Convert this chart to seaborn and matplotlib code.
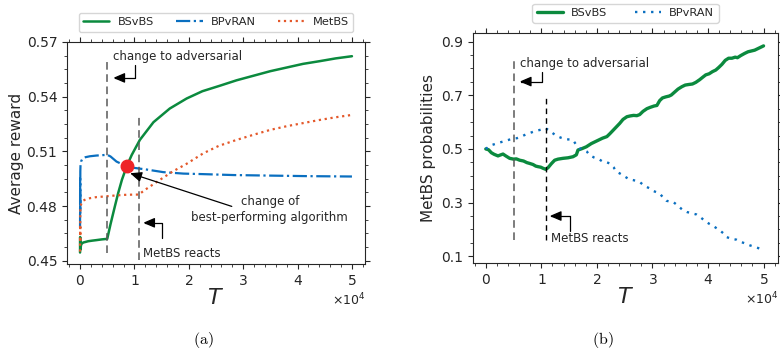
import matplotlib
matplotlib.use("Agg")
import matplotlib.pyplot as plt
from matplotlib.ticker import MultipleLocator, ScalarFormatter
import seaborn as sns

# ---------------- (a) average reward over time ----------------
t_bsvbs = [0, 20, 40, 70, 120, 200, 350, 600, 1000, 1500, 2200, 3000, 4000, 5000,
           5600, 6400, 7000, 7700, 8600, 9500, 11000, 13500, 16500, 19600, 22500,
           25700, 28800, 31900, 35000, 38000, 41000, 44100, 47000, 50000]
r_bsvbs = [0.4545, 0.4630, 0.4560, 0.4600, 0.4575, 0.4588, 0.4595, 0.4600, 0.4603,
           0.4607, 0.4610, 0.4613, 0.4617, 0.4620, 0.4700, 0.4798, 0.4870, 0.4944,
           0.5020, 0.5080, 0.5163, 0.5260, 0.5335, 0.5390, 0.5430, 0.5460, 0.5490,
           0.5515, 0.5540, 0.5560, 0.5580, 0.5595, 0.5610, 0.5622]

t_bpvran = [0, 15, 30, 50, 80, 130, 200, 350, 600, 1000, 1800, 3000, 4000, 5000,
            5600, 6700, 7700, 8600, 9800, 12300, 15300, 19000, 22700, 28200, 34900,
            42000, 50000]
r_bpvran = [0.4680, 0.4950, 0.4760, 0.4990, 0.5020, 0.5035, 0.5045, 0.5055, 0.5062,
            0.5068, 0.5073, 0.5077, 0.5079, 0.5081, 0.5072, 0.5044, 0.5030, 0.5020,
            0.5010, 0.5000, 0.4986, 0.4978, 0.4975, 0.4970, 0.4967, 0.4964, 0.4962]

t_metbs = [0, 15, 30, 50, 80, 130, 200, 350, 600, 1000, 1800, 3000, 4300, 5000,
           6500, 8600, 10800, 12000, 13500, 14700, 17000, 19500, 22700, 25500, 28800,
           32000, 35000, 38000, 41000, 44000, 47000, 50000]
r_metbs = [0.4550, 0.4700, 0.4600, 0.4760, 0.4790, 0.4802, 0.4810, 0.4820, 0.4830,
           0.4836, 0.4843, 0.4849, 0.4852, 0.4854, 0.4858, 0.4862, 0.4863, 0.4890,
           0.4920, 0.4944, 0.4989, 0.5030, 0.5090, 0.5130, 0.5163, 0.5192, 0.5218,
           0.5238, 0.5255, 0.5272, 0.5287, 0.5300]

# crossing point where BSvBS overtakes BPvRAN
cross_t = [8600]
cross_r = [0.502]

# ---------------- (b) MetBS selection probabilities ----------------
t_p_bsvbs = [0, 500, 1000, 1500, 2200, 2700, 3100, 3600, 4300, 5000, 5500, 6100, 6800,
             7400, 7900, 8500, 9000, 9400, 9900, 10300, 10800, 11200, 11800, 12400,
             13000, 13900, 14800, 15700, 16300, 16600, 17300, 18100, 19000, 20000,
             21000, 21800, 22300, 22900, 23500, 24100, 24700, 25400, 26000, 26600,
             27200, 27700, 28300, 29000, 29600, 30300, 30800, 31300, 31800, 32400,
             33000, 33400, 34000, 34600, 35300, 35900, 36500, 37200, 37800, 38500,
             39100, 39600, 40200, 40800, 41400, 41900, 42500, 43100, 43700, 44300,
             44900, 45300, 45900, 46600, 47200, 47800, 48400, 49000, 49600, 50000]
p_bsvbs = [0.500, 0.497, 0.486, 0.480, 0.474, 0.478, 0.481, 0.474, 0.465, 0.462,
           0.463, 0.458, 0.455, 0.449, 0.446, 0.442, 0.436, 0.434, 0.432, 0.428,
           0.424, 0.430, 0.445, 0.458, 0.462, 0.465, 0.467, 0.471, 0.478, 0.496,
           0.501, 0.508, 0.520, 0.530, 0.540, 0.546, 0.556, 0.569, 0.582, 0.595,
           0.610, 0.620, 0.623, 0.625, 0.624, 0.628, 0.640, 0.650, 0.655, 0.660,
           0.662, 0.680, 0.690, 0.694, 0.697, 0.701, 0.712, 0.723, 0.732, 0.738,
           0.740, 0.742, 0.748, 0.758, 0.768, 0.776, 0.780, 0.788, 0.794, 0.803,
           0.815, 0.830, 0.838, 0.838, 0.842, 0.840, 0.848, 0.856, 0.862, 0.865,
           0.868, 0.874, 0.880, 0.884]

t_p_bpvran = [0, 500, 1000, 1600, 2500, 3200, 4000, 4900, 5600, 6300, 7300, 8000,
              9100, 9800, 10400, 10800, 11300, 12100, 12800, 13500, 14500, 15200,
              15700, 16300, 16900, 17500, 18200, 18700, 19500, 20500, 21100, 21800,
              22300, 23000, 23500, 24100, 24800, 25800, 26500, 27300, 27700, 28400,
              29000, 29500, 30200, 31300, 31800, 32500, 33300, 33700, 34500, 35200,
              35500, 36200, 37300, 37900, 38600, 39700, 40300, 41000, 42100, 42800,
              43300, 44200, 45100, 45700, 46400, 47500, 48100, 49000, 49800]
p_bpvran = [0.500, 0.508, 0.514, 0.518, 0.524, 0.528, 0.533, 0.539, 0.540, 0.545,
            0.555, 0.560, 0.568, 0.571, 0.574, 0.577, 0.570, 0.558, 0.548, 0.542,
            0.536, 0.535, 0.533, 0.515, 0.502, 0.498, 0.490, 0.477, 0.468, 0.460,
            0.452, 0.450, 0.446, 0.432, 0.415, 0.409, 0.400, 0.387, 0.384, 0.380,
            0.377, 0.365, 0.358, 0.353, 0.343, 0.334, 0.322, 0.307, 0.303, 0.303,
            0.290, 0.277, 0.272, 0.265, 0.259, 0.256, 0.246, 0.228, 0.220, 0.212,
            0.197, 0.185, 0.172, 0.165, 0.162, 0.155, 0.150, 0.141, 0.137, 0.131,
            0.122]

switch_t = 5000      # environment becomes adversarial
react_t = 10800      # MetBS starts to react

a_yticks = [0.45, 0.48, 0.51, 0.54, 0.57]
b_yticks = [0.1, 0.3, 0.5, 0.7, 0.9]

GREEN = "#0b8a3e"
BLUE = "#0a6fc0"
ORANGE = "#e4582a"
RED = "#ee2428"

sns.set_style("ticks", rc={"xtick.top": True, "ytick.right": True,
                           "xtick.direction": "out", "ytick.direction": "out"})
plt.rcParams["font.family"] = ["DejaVu Sans"]
plt.rcParams["xtick.labelsize"] = 10
plt.rcParams["ytick.labelsize"] = 10

fig = plt.figure(figsize=(7.8, 3.53), dpi=100)
W, H = 780, 353
ax_a = fig.add_axes([67 / W, 1 - 264 / H, (365 - 67) / W, (264 - 42) / H])
ax_b = fig.add_axes([473 / W, 1 - 263 / H, (778 - 473) / W, (263 - 33) / H])

TXT = "0.15"
HEAD = "-|>,head_length=0.7,head_width=0.3"


def style_time_axis(ax, xlim):
    ax.set_xlim(*xlim)
    ax.xaxis.set_major_locator(MultipleLocator(10000))
    ax.xaxis.set_minor_locator(MultipleLocator(2000))
    fmt = ScalarFormatter(useMathText=True)
    fmt.set_powerlimits((4, 4))
    ax.xaxis.set_major_formatter(fmt)
    ax.xaxis.get_offset_text().set_fontsize(9)
    ax.tick_params(which="both", top=True, right=True)
    ax.set_xlabel(r"$T$", fontsize=16, labelpad=0)


def elbow_arrow(ax, tip, start):
    ax.annotate("", xy=tip, xytext=start,
                arrowprops=dict(arrowstyle=HEAD,
                                connectionstyle="angle,angleA=90,angleB=0,rad=0",
                                color="k", lw=0.9, shrinkA=0, shrinkB=0,
                                mutation_scale=10))


# ---------- panel (a) ----------
sns.lineplot(x=t_bsvbs, y=r_bsvbs, ax=ax_a, color=GREEN, lw=1.8, sort=False,
             label="BSvBS")
sns.lineplot(x=t_bpvran, y=r_bpvran, ax=ax_a, color=BLUE, lw=1.6, sort=False,
             linestyle="-.", label="BPvRAN")
sns.lineplot(x=t_metbs, y=r_metbs, ax=ax_a, color=ORANGE, lw=1.6, sort=False,
             linestyle=":", label="MetBS")
ax_a.legend(loc="lower center", bbox_to_anchor=(0.5, 1.045), ncol=3, fontsize=8.2,
            handlelength=2.3, handletextpad=0.7, columnspacing=2.0,
            borderaxespad=0, frameon=True)

ax_a.vlines([switch_t], 0.4544, 0.5596, colors="0.35", lw=1.1,
            linestyles=(0, (5, 3)))
ax_a.vlines([react_t], 0.4506, 0.5300, colors="0.35", lw=1.1,
            linestyles=(0, (5, 3)))
ax_a.plot(cross_t, cross_r, "o", color=RED, ms=9, zorder=5)

ax_a.text(6100, 0.5618, "change to adversarial", fontsize=8.5, color=TXT,
          ha="left", va="center")
elbow_arrow(ax_a, (6100, 0.5503), (10100, 0.5574))
ax_a.text(11600, 0.4541, "MetBS reacts", fontsize=8.5, color=TXT,
          ha="left", va="center")
elbow_arrow(ax_a, (11600, 0.4708), (15100, 0.4626))
ax_a.text(34900, 0.4782, "change of\nbest-performing algorithm", fontsize=8.5,
          color=TXT, ha="center", va="center", linespacing=1.25)
ax_a.annotate("", xy=(9200, 0.4980), xytext=(27900, 0.4798),
              arrowprops=dict(arrowstyle=HEAD, color="k", lw=0.9,
                              shrinkA=0, shrinkB=0, mutation_scale=10))

style_time_axis(ax_a, (-2400, 52400))
ax_a.set_ylim(0.4482, 0.57)
ax_a.set_yticks(a_yticks)
ax_a.set_yticklabels([f"{v:.2f}" for v in a_yticks])
ax_a.yaxis.set_minor_locator(MultipleLocator(0.0075))
ax_a.set_ylabel("Average reward", fontsize=11, labelpad=1.5)

# ---------- panel (b) ----------
sns.lineplot(x=t_p_bsvbs, y=p_bsvbs, ax=ax_b, color=GREEN, lw=2.4, sort=False,
             label="BSvBS")
sns.lineplot(x=t_p_bpvran, y=p_bpvran, ax=ax_b, color=BLUE, lw=1.7, sort=False,
             linestyle=(0, (1, 2.4)), label="BPvRAN")
ax_b.legend(loc="lower center", bbox_to_anchor=(0.5, 1.045), ncol=2, fontsize=8.2,
            handlelength=2.3, handletextpad=0.7, columnspacing=2.4,
            borderaxespad=0, frameon=True)

ax_b.vlines([switch_t], 0.16, 0.844, colors="0.35", lw=1.1,
            linestyles=(0, (5, 3)))
ax_b.vlines([react_t], 0.16, 0.695, colors="k", lw=1.0,
            linestyles=(0, (4, 3)))

ax_b.text(6100, 0.819, "change to adversarial", fontsize=8.5, color=TXT,
          ha="left", va="center")
elbow_arrow(ax_b, (6100, 0.751), (10100, 0.788))
ax_b.text(11800, 0.168, "MetBS reacts", fontsize=8.5, color=TXT,
          ha="left", va="center")
elbow_arrow(ax_b, (11500, 0.250), (15200, 0.193))

style_time_axis(ax_b, (-2300, 52600))
ax_b.set_ylim(0.075, 0.932)
ax_b.set_yticks(b_yticks)
ax_b.set_yticklabels([f"{v:.1f}" for v in b_yticks])
ax_b.yaxis.set_minor_locator(MultipleLocator(0.05))
ax_b.set_ylabel("MetBS probabilities", fontsize=11, labelpad=3.5)

# sub-figure captions
fig.text(203.5 / W, 1 - 340 / H, r"$\mathrm{(a)}$", math_fontfamily="cm",
         fontsize=11.5, ha="center", va="center", color="k")
fig.text(603 / W, 1 - 340 / H, r"$\mathrm{(b)}$", math_fontfamily="cm",
         fontsize=11.5, ha="center", va="center", color="k")

fig.savefig("out.png", dpi=100)
